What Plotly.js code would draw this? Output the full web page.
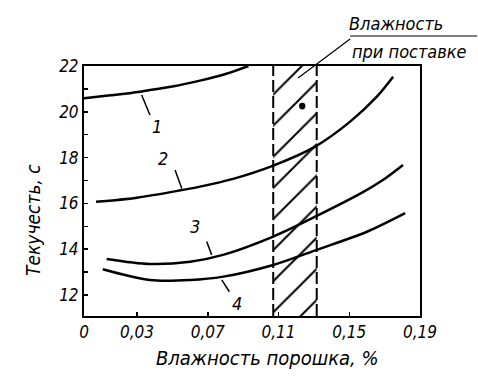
<!DOCTYPE html>
<html><head><meta charset="utf-8">
<script src="https://cdn.plot.ly/plotly-3.0.1.min.js"></script>
<style>html,body{margin:0;padding:0;background:#fff}#c{width:478px;height:378px}</style>
</head><body><div id="c"></div>
<script>
// Data
var x1 = [0, 0.015, 0.0317, 0.05, 0.0656, 0.08, 0.093];
var y1 = [20.59, 20.72, 20.88, 21.1, 21.36, 21.65, 22.0];
var x2 = [0.0068, 0.03, 0.0554, 0.0656, 0.0843, 0.107, 0.1307, 0.1505, 0.1656, 0.1748];
var y2 = [16.07, 16.25, 16.58, 16.73, 17.07, 17.65, 18.48, 19.57, 20.66, 21.53];
var x3 = [0.0128, 0.0373, 0.06, 0.0786, 0.107, 0.1316, 0.158, 0.169, 0.1804];
var y3 = [13.57, 13.35, 13.45, 13.75, 14.55, 15.45, 16.5, 17.02, 17.68];
var x4 = [0.0106, 0.0373, 0.06, 0.0788, 0.107, 0.1316, 0.16, 0.1816];
var y4 = [13.12, 12.65, 12.65, 12.8, 13.31, 13.97, 14.76, 15.57];
var bandX = [0.107, 0.1316];          // "Влажность при поставке" zone
var xTickVals = [0, 0.03, 0.07, 0.11, 0.15, 0.19];
var xTickText = ['0', '0,03', '0,07', '0,11', '0,15', '0,19'];
var yTickVals = [12, 13, 14, 15, 16, 17, 18, 19, 20, 21, 22];
var yTickText = ['12', '', '14', '', '16', '', '18', '', '20', '', '22'];
var curveLabels = ['1', '2', '3', '4'];

var FONT = '"DejaVu Sans Condensed", "Liberation Sans Narrow", "Liberation Sans", sans-serif';
var yMin = 11.08, yMax = 22;

function curve(x, y) {
  return {x: x, y: y, type: 'scatter', mode: 'lines',
    line: {color: '#000', width: 2.5, shape: 'spline', smoothing: 0.9},
    hoverinfo: 'skip', showlegend: false, cliponaxis: true};
}

var band = {
  x: [bandX[0], bandX[1], bandX[1], bandX[0], bandX[0]],
  y: [yMin, yMin, yMax, yMax, yMin],
  type: 'scatter', mode: 'lines', fill: 'toself',
  fillcolor: 'rgba(0,0,0,0)',
  fillpattern: {shape: '/', size: 22, solidity: 0.09, fgcolor: '#000', bgcolor: 'rgba(0,0,0,0)'},
  line: {width: 0, color: 'rgba(0,0,0,0)'}, hoverinfo: 'skip', showlegend: false
};

var traces = [band, curve(x1, y1), curve(x2, y2), curve(x3, y3), curve(x4, y4)];

var lblPos = [[0.0411, 19.35], [0.0447, 17.98], [0.0628, 14.98], [0.0864, 11.64]];
var leaders = [[0.0326, 20.73, 0.0373, 19.86], [0.0515, 17.46, 0.0553, 16.65],
               [0.0694, 14.33, 0.0722, 13.75], [0.0779, 12.66, 0.0822, 12.14]];

var annotations = [];
var shapes = [];
curveLabels.forEach(function (t, i) {
  annotations.push({x: lblPos[i][0], y: lblPos[i][1], xref: 'x', yref: 'y', text: t,
    xanchor: 'center', yanchor: 'middle',
    showarrow: false, font: {family: FONT, size: 18, style: 'italic', color: '#000'}});
  var l = leaders[i];
  shapes.push({type: 'line', xref: 'x', yref: 'y', x0: l[0], y0: l[1], x1: l[2], y1: l[3],
    line: {color: '#000', width: 1.5}});
});
bandX.forEach(function (bx) {
  shapes.push({type: 'line', xref: 'x', yref: 'y', x0: bx, x1: bx, y0: yMin, y1: yMax,
    line: {color: '#000', width: 2, dash: '12px,4px'}});
});
// pointer to the band
shapes.push({type: 'line', xref: 'paper', yref: 'paper', x0: 0.637, y0: 0.952, x1: 0.792, y1: 1.108,
  line: {color: '#000', width: 1.2}});
shapes.push({type: 'line', xref: 'paper', yref: 'paper', x0: 0.792, y0: 1.12, x1: 1.17, y1: 1.12,
  line: {color: '#000', width: 1.2}});
shapes.push({type: 'circle', xref: 'x', yref: 'y', x0: 0.1216, x1: 0.1252, y0: 20.1, y1: 20.4,
  fillcolor: '#000', line: {width: 0}});

annotations.push({xref: 'paper', yref: 'paper', x: 0.929, y: 1.172, text: 'Влажность',
  xanchor: 'center', yanchor: 'middle',
  showarrow: false, font: {family: FONT, size: 18, style: 'italic', color: '#000'}});
annotations.push({xref: 'paper', yref: 'paper', x: 0.792, y: 1.056, xanchor: 'left', yanchor: 'middle',
  text: 'при поставке',
  showarrow: false, font: {family: FONT, size: 18, style: 'italic', color: '#000'}});
annotations.push({xref: 'paper', yref: 'paper', x: 0.545, y: -0.168, text: 'Влажность порошка, %',
  xanchor: 'center', yanchor: 'middle',
  showarrow: false, font: {family: FONT, size: 20, style: 'italic', color: '#000'}});
annotations.push({xref: 'paper', yref: 'paper', x: -0.152, y: 0.384, text: 'Текучесть, с', textangle: -90,
  xanchor: 'center', yanchor: 'middle',
  showarrow: false, font: {family: FONT, size: 19, style: 'italic', color: '#000'}});

var axisCommon = {showline: true, mirror: true, linecolor: '#000', linewidth: 2,
  showgrid: false, zeroline: false, ticks: 'inside', ticklen: 4, tickwidth: 1.5, tickcolor: '#000',
  tickfont: {family: FONT, size: 17, style: 'italic', color: '#000'}};

var layout = {
  width: 478, height: 378, paper_bgcolor: '#fff', plot_bgcolor: '#fff',
  margin: {l: 84, r: 58, t: 66, b: 62}, showlegend: false,
  xaxis: Object.assign({}, axisCommon, {range: [0, 0.19], tickmode: 'array',
    tickvals: xTickVals, ticktext: xTickText}),
  yaxis: Object.assign({}, axisCommon, {range: [yMin, yMax], tickmode: 'array',
    tickvals: yTickVals, ticktext: yTickText}),
  shapes: shapes, annotations: annotations
};

Plotly.newPlot('c', traces, layout, {staticPlot: true});
</script></body></html>
